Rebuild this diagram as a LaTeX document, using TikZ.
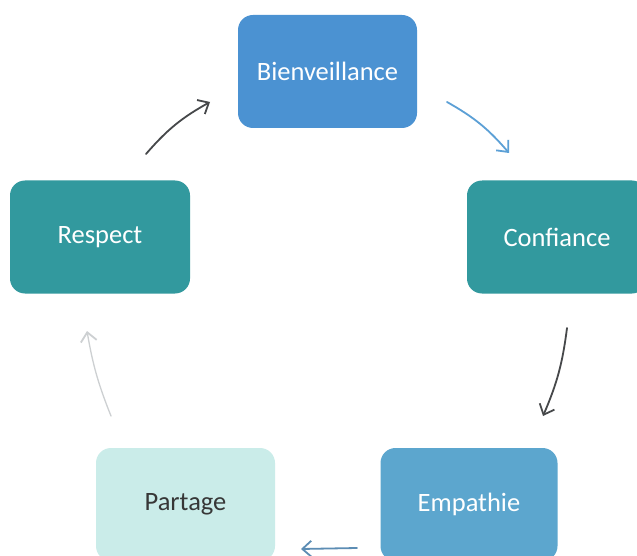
\documentclass[tikz,border=0pt]{standalone}
\usepackage{fontspec}
\setmainfont{Carlito}
\usetikzlibrary{arrows.meta}
\definecolor{cblue}{RGB}{75,146,210}
\definecolor{cteal}{RGB}{50,153,158}
\definecolor{cemp}{RGB}{92,166,206}
\definecolor{cpart}{RGB}{202,236,233}
\definecolor{cdark}{RGB}{70,72,74}
\definecolor{carrblue}{RGB}{92,160,214}
\definecolor{clight}{RGB}{205,208,210}
\definecolor{ctxt}{RGB}{55,55,55}
\tikzset{
  boxnode/.style={rectangle, rounded corners=15pt, minimum width=180pt, minimum height=113pt, inner sep=0pt,
    font=\fontsize{26.5}{31}\selectfont, text=white},
  cyc/.style={line width=1.8pt, line cap=round, -{Straight Barb[length=9pt,width=16pt,line width=1.8pt]}},
}
\begin{document}
\begin{tikzpicture}[x=1pt,y=-1pt]
\useasboundingbox (0,0) rectangle (637,556);
\fill[white] (0,0) rectangle (637,556);
\node[boxnode, fill=cblue, minimum width=179pt] (B) at (327.5,71.5) {Bienveillance};
\node[boxnode, fill=cteal] (C) at (557,237) {Confiance};
\node[boxnode, fill=cteal] (R) at (100,237) {Respect};
\node[boxnode, fill=cemp, minimum width=177pt] (E) at (469,504.5) {Empathie};
\node[boxnode, fill=cpart, text=ctxt, minimum width=179pt] (P) at (185.5,504.5) {Partage};
\coordinate (r1) at (146,154);
\coordinate (r2) at (210,102);
\coordinate (b1) at (447,102);
\coordinate (b2) at (509,153);
\coordinate (c1) at (567,328);
\coordinate (c2) at (543,416);
\coordinate (e1) at (357,548);
\coordinate (e2) at (301,549);
\coordinate (p1) at (111,416);
\coordinate (p2) at (87,331);
\draw[cyc, cdark] (r1) to[bend left=10] (r2);
\draw[cyc, carrblue] (b1) to[bend left=10] (b2);
\draw[cyc, cdark] (c1) to[bend left=8] (c2);
\draw[cyc, color=carrblue!80!black!90] (e1) -- (e2);
\draw[cyc, clight, line width=1.3pt] (p1) to[bend left=6] (p2);
\end{tikzpicture}
\end{document}
